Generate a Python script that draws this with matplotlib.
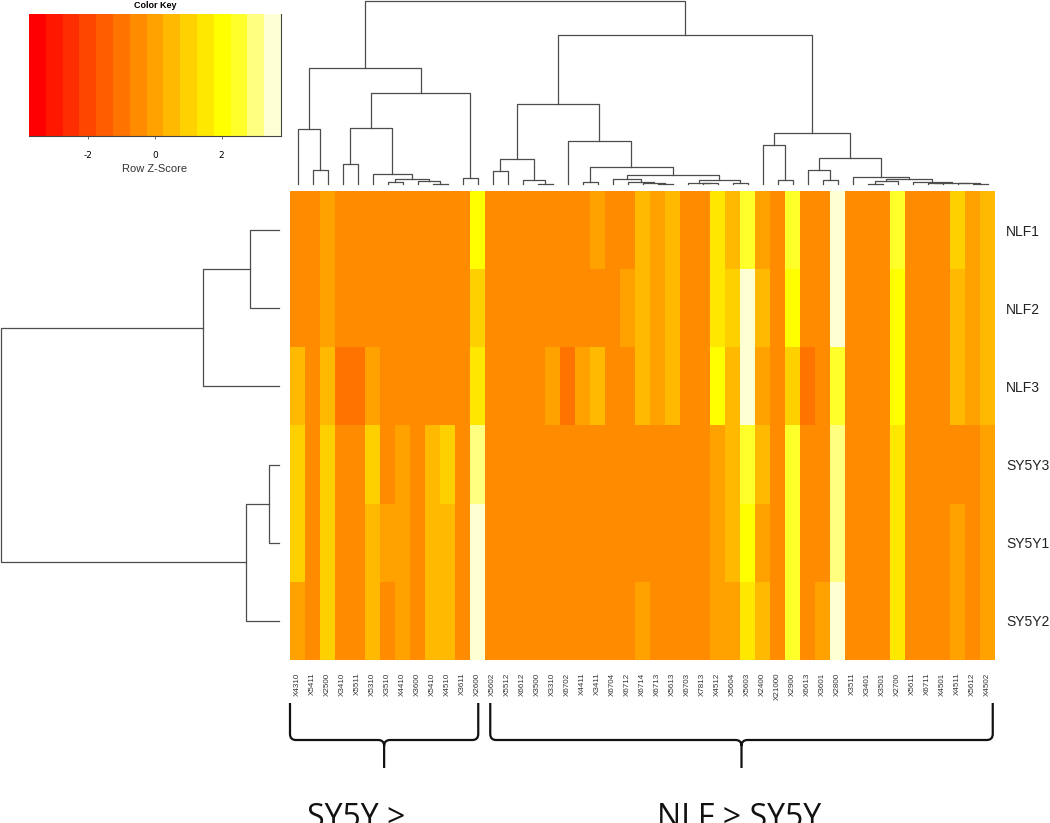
import numpy as np
import matplotlib
matplotlib.use("Agg")
import matplotlib.pyplot as plt
from matplotlib.colors import ListedColormap, BoundaryNorm, hsv_to_rgb
from matplotlib.path import Path
from matplotlib.patches import PathPatch

plt.rcParams['axes.unicode_minus'] = False

W, H = 1050, 823

col_labels = ["X4310", "X5411", "X2500", "X3410", "X5511", "X5310", "X3510", "X4410",
              "X3600", "X5410", "X4510", "X3611", "X2600", "X5602", "X5512", "X6612",
              "X3500", "X3310", "X6702", "X4411", "X3411", "X6704", "X6712", "X6714",
              "X6713", "X5613", "X6703", "X7813", "X4512", "X5604", "X5603", "X2400",
              "X21000", "X2900", "X6613", "X3601", "X2800", "X3511", "X3401", "X3501",
              "X2700", "X5611", "X6711", "X4501", "X4511", "X5612", "X4502"]
row_labels = ["NLF1", "NLF2", "NLF3", "SY5Y3", "SY5Y1", "SY5Y2"]

# row z-scores
nlf1 = [-0.5, -0.5, 0, -0.5, -0.5, -0.5, -0.5, -0.5, -0.5, -0.5, -0.5, -0.5, 2,
        -0.5, -0.5, -0.5, -0.5, -0.5, -0.5, -0.5, 0, -0.5, -0.5, 0.5, 0, 0.5, -0.5,
        -0.5, 1.5, 0.5, 2.5, 0, -0.5, 2.5, -0.5, -0.5, 3.5, -0.5, -0.5, -0.5, 2.5,
        -0.5, -0.5, -0.5, 1, 0, 0.5]
nlf2 = [-0.5, -0.5, 0, -0.5, -0.5, -0.5, -0.5, -0.5, -0.5, -0.5, -0.5, -0.5, 1,
        -0.5, -0.5, -0.5, -0.5, -0.5, -0.5, -0.5, -0.5, -0.5, 0, 0.5, 0, 0.5, -0.5,
        -0.5, 1.5, 1, 3.5, 0.5, -0.5, 2, -0.5, -0.5, 3.5, -0.5, -0.5, -0.5, 2,
        -0.5, -0.5, -0.5, 0.5, 0, 0.5]
nlf3 = [0.5, -0.5, 0.5, -1, -1, 0, -0.5, -0.5, -0.5, -0.5, -0.5, -0.5, 1.5,
        -0.5, -0.5, -0.5, -0.5, 0, -1, 0, 0.5, -0.5, -0.5, 0.5, 0, 0.5, -0.5,
        -0.5, 2, 0.5, 3.5, 0, -0.5, 1, -1, -0.5, 2.5, -0.5, -0.5, -0.5, 2,
        -0.5, -0.5, -0.5, 0.5, 0, 0.5]
sy5y3 = [1, -0.5, 1, -0.5, -0.5, 1, -0.5, 0, -0.5, 0.5, 1, -0.5, 3,
         -0.5, -0.5, -0.5, -0.5, -0.5, -0.5, -0.5, -0.5, -0.5, -0.5, -0.5, -0.5, -0.5, -0.5,
         -0.5, 0, 0.5, 2.5, 0.5, -0.5, 2.5, -0.5, -0.5, 3, -0.5, -0.5, -0.5, 1.5,
         -0.5, -0.5, -0.5, -0.5, -0.5, 0]
sy5y1 = [1, -0.5, 1, -0.5, -0.5, 0.5, 0, 0, -0.5, 0.5, 0.5, -0.5, 3.5,
         -0.5, -0.5, -0.5, -0.5, -0.5, -0.5, -0.5, -0.5, -0.5, -0.5, -0.5, -0.5, -0.5, -0.5,
         -0.5, 0, 0.5, 2, 0, -0.5, 2.5, -0.5, -0.5, 3, -0.5, -0.5, -0.5, 1.5,
         -0.5, -0.5, -0.5, 0, -0.5, 0]
sy5y2 = [0, -0.5, 1, -0.5, -0.5, 0.5, -0.5, 0, -0.5, 0.5, 0.5, -0.5, 3.5,
         -0.5, -0.5, -0.5, -0.5, -0.5, -0.5, -0.5, -0.5, -0.5, -0.5, 0, -0.5, -0.5, -0.5,
         -0.5, 0, 0, 1.5, 0.5, -0.5, 2.5, -0.5, 0, 3.5, -0.5, -0.5, -0.5, 1.5,
         -0.5, -0.5, -0.5, 0, -0.5, 0]

# dendrograms as (height, left, right), leaves are column / row indices
col_tree = (183.3,
            (116.3,
             (54.7, 0, (14.3, 1, 2)),
             (91.3,
              (55.7, (20.0, 3, 4),
               (10.0, 5, (4.7, (2.0, 6, 7), (3.3, 8, (0.4, 9, 10))))),
              (5.7, 11, 12))),
            (149.0,
             (80.3,
              (25.3, (12.7, 13, 14), (3.7, 15, (0.5, 16, 17))),
              (42.7, 18,
               (17.3, (1.7, 19, 20),
                (9.0,
                 (5.3, 21, (2.0, 22, (0.8, 23, (0.3, 24, 25)))),
                 (3.7, (1.5, 26, (0.8, 27, 28)), (0.7, 29, 30)))))),
             (51.3,
              (38.7, 31, (3.7, 32, 33)),
              (25.7,
               (13.7, 34, (3.7, 35, 36)),
               (7.3, 37,
                (4.7, (3.3, (0.3, 38, 39), 40),
                 (2.5, 41, (1.5, (0.7, 42, 43), (1.0, 44, (0.3, 45, 46))))))))))
row_tree = (279.0, (76.0, (29.3, 0, 1), 2), (33.6, (10.6, 3, 4), 5))

# groups marked with braces under the heatmap
group_names = ["SY5Y >", "NLF > SY5Y"]
group_spans = [(0.0, 12.55), (13.35, 46.85)]

zmax = 3.78
nbins = 15


def heat_colors(n):
    # same recipe as R's heat.colors(n)
    j = n // 4
    i = n - j
    hues = np.linspace(0, 1 / 6, i)
    cols = [hsv_to_rgb((h, 1, 1)) for h in hues]
    sats = np.linspace(1 - 1 / (2 * j), 1 / (2 * j), j)
    cols += [hsv_to_rgb((1 / 6, s, 1)) for s in sats]
    return cols


def px(x0, y0, x1, y1):
    return [x0 / W, 1 - y1 / H, (x1 - x0) / W, (y1 - y0) / H]


def draw_tree(ax, node, vertical=True):
    if isinstance(node, int):
        return node + 0.5, 0.0
    h, left, right = node
    pl, hl = draw_tree(ax, left, vertical)
    pr, hr = draw_tree(ax, right, vertical)
    if vertical:
        ax.plot([pl, pl, pr, pr], [hl, h, h, hr], color='#4d4d4d', lw=0.9, clip_on=False)
    else:
        ax.plot([hl, h, h, hr], [pl, pl, pr, pr], color='#4d4d4d', lw=0.9, clip_on=False)
    return (pl + pr) / 2, h


data = np.array([nlf1, nlf2, nlf3, sy5y3, sy5y1, sy5y2])
ncol = len(col_labels)
nrow = len(row_labels)

breaks = np.linspace(-zmax, zmax, nbins + 1)
cmap = ListedColormap(heat_colors(nbins))
norm = BoundaryNorm(breaks, cmap.N)

fig = plt.figure(figsize=(W / 100, H / 100), dpi=100)

# heatmap
ax = fig.add_axes(px(290, 191, 995, 660))
ax.imshow(data, cmap=cmap, norm=norm, aspect='auto', interpolation='nearest',
          extent=(0, ncol, nrow, 0))
ax.set_xticks(np.arange(ncol) + 0.5)
ax.set_xticklabels(col_labels, rotation=90, fontsize=5.8, color='#333333',
                   family='Liberation Sans', va='top')
ax.tick_params(axis='x', length=0, pad=9)
ax.yaxis.tick_right()
ax.set_yticks(np.arange(nrow) + 0.5)
ax.set_yticklabels(row_labels, fontsize=10, color='#222222', family='Liberation Sans')
ax.tick_params(axis='y', length=0, pad=8)
for s in ax.spines.values():
    s.set_visible(False)

# column dendrogram
axc = fig.add_axes(px(290, 1, 995, 184))
draw_tree(axc, col_tree, vertical=True)
axc.set_xlim(0, ncol)
axc.set_ylim(0, col_tree[0])
axc.axis('off')

# row dendrogram
axr = fig.add_axes(px(1, 191, 279.3, 660))
draw_tree(axr, row_tree, vertical=False)
axr.set_ylim(nrow, 0)
axr.set_xlim(row_tree[0], 0)
axr.axis('off')

# colour key
axk = fig.add_axes(px(29, 14, 281, 136))
axk.pcolormesh(breaks, [0, 1], [(breaks[:-1] + breaks[1:]) / 2], cmap=cmap, norm=norm)
axk.set_xlim(-zmax, zmax)
axk.set_ylim(0, 1)
axk.set_yticks([])
axk.set_xticks([-2, 0, 2])
axk.tick_params(axis='x', labelsize=6.5, length=2.5, width=0.6, color='#555555', pad=8)
axk.set_xlabel('Row Z-Score', fontsize=8, labelpad=3, family='Liberation Sans',
               color='#333333')
axk.set_title('Color Key', fontsize=6.5, fontweight='bold', pad=4, family='Liberation Sans')
for name, s in axk.spines.items():
    s.set_visible(name in ('bottom', 'right'))
    s.set_color('#444444')
    s.set_linewidth(0.8)

# braces under the groups
axb = fig.add_axes(px(290, 690, 995, 823))
axb.set_xlim(0, ncol)
axb.set_ylim(823, 690)
axb.axis('off')
ytop, ymid, ytip = 703, 740, 768
rx, ry = 6 / 15, 6
for name, (x0, x1) in zip(group_names, group_spans):
    xc = (x0 + x1) / 2
    verts = [(x0, ytop), (x0, ymid - ry), (x0, ymid), (x0 + rx, ymid),
             (xc - rx, ymid), (xc, ymid), (xc, ymid + ry), (xc, ytip),
             (x1, ytop), (x1, ymid - ry), (x1, ymid), (x1 - rx, ymid),
             (xc + rx, ymid), (xc, ymid), (xc, ymid + ry)]
    codes = [Path.MOVETO, Path.LINETO, Path.CURVE3, Path.CURVE3,
             Path.LINETO, Path.CURVE3, Path.CURVE3, Path.LINETO,
             Path.MOVETO, Path.LINETO, Path.CURVE3, Path.CURVE3,
             Path.LINETO, Path.CURVE3, Path.CURVE3]
    axb.add_patch(PathPatch(Path(verts, codes), fill=False, lw=1.6, color='#111111',
                            clip_on=False))

# the group captions run off the bottom edge, as in the original
fig.text(356 / W, 1 - 802 / H, group_names[0], ha='center', va='top', fontsize=23,
         family='Open Sans', color='#111111')
fig.text(739 / W, 1 - 802 / H, group_names[1], ha='center', va='top', fontsize=23,
         family='Open Sans', color='#111111')

fig.savefig('out.png', dpi=100)
